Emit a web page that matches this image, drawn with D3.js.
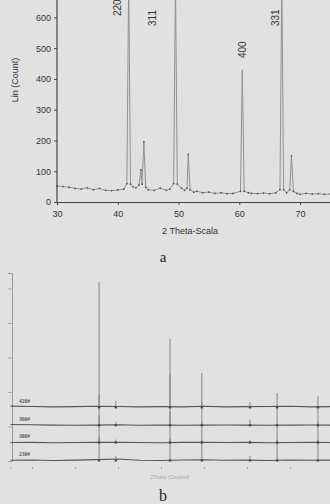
<!DOCTYPE html>
<html>
<head>
<meta charset="utf-8">
<script src="https://cdn.jsdelivr.net/npm/d3@7"></script>
<style>
  body { margin: 0; background: #e1e1e1; }
  svg { display: block; }
</style>
</head>
<body>
<script>
// (a) XRD pattern: [2theta, count]
const profileA = [
  [30, 52], [31, 50], [32, 48], [33, 44], [34, 42], [35, 46], [36, 40], [37, 44],
  [38, 38], [39, 37], [40, 39], [41, 42], [41.5, 60], [41.8, 720], [42.1, 58],
  [42.5, 50], [43, 46], [43.5, 55], [43.8, 105], [44.0, 58], [44.3, 195], [44.6, 48],
  [45, 40], [46, 38], [47, 45], [48, 38], [48.6, 42], [49.2, 60], [49.5, 720],
  [49.8, 58], [50.5, 45], [51, 38], [51.4, 45], [51.6, 155], [51.9, 40], [52.5, 32],
  [53, 35], [54, 30], [55, 32], [56, 28], [57, 30], [58, 27], [59, 28], [60.2, 35],
  [60.5, 430], [60.8, 35], [61.5, 30], [62, 28], [63, 27], [64, 29], [65, 27],
  [66, 30], [66.7, 40], [67.0, 720], [67.3, 40], [67.8, 30], [68.3, 40], [68.6, 150],
  [68.9, 35], [69.5, 28], [70, 25], [71, 28], [72, 26], [73, 27], [74, 25], [75, 26]
];
const hklLabels = ['220', '311', '400', '331'];
const hklPos = [41.8, 49.5, 60.5, 67.0];
const yTicksA = [0, 100, 200, 300, 400, 500, 600];
const xTicksA = [30, 40, 50, 60, 70];

// (b) stacked patterns
const samplesB = ['230#', '300#', '360#', '420#'];
const offsetsB = [0, 520, 1020, 1540];
const bgX = [15, 20, 25, 30, 35, 40, 45, 50, 55, 60, 65, 70, 75, 80, 85, 89.3];
const bgB = [
  [20, 30, 15, 25, 40, 60, 20, 15, 30, 35, 20, 25, 15, 30, 20, 25],
  [15, 20, 10, 15, 20, 25, 15, 10, 20, 20, 15, 20, 10, 15, 20, 15],
  [40, 30, 20, 15, 20, 30, 15, 20, 15, 20, 25, 20, 15, 20, 25, 20],
  [50, 40, 30, 35, 45, 40, 30, 35, 30, 45, 30, 35, 40, 45, 30, 35]
];
const peakX = [35.6, 39.5, 52.1, 59.5, 70.7, 77.0, 86.5];
const peakB = [
  [700, 150, 650, 600, 150, 600, 600],
  [800, 100, 900, 600, 80, 550, 600],
  [900, 120, 1500, 700, 180, 600, 550],
  [3650, 200, 2000, 1010, 170, 430, 345]
];
const yTicksB = [0, 1000, 2000, 3000, 4000, 5000];
const xTicksB = [15, 20, 30, 40, 50, 60, 70, 80];

const W = 330, H = 504;
const svg = d3.select('body').append('svg').attr('width', W).attr('height', H);

// ---- chart a ----
const x = d3.scaleLinear().domain([30, 75]).range([57, 330.4]);
const y = d3.scaleLinear().domain([0, 650]).range([202, 2]);

svg.append('clipPath').attr('id', 'clipA')
  .append('rect').attr('x', 57).attr('y', 0).attr('width', W - 57).attr('height', 202);

svg.append('path')
  .datum(profileA)
  .attr('clip-path', 'url(#clipA)')
  .attr('fill', 'none')
  .attr('stroke', '#919191')
  .attr('stroke-width', 1)
  .attr('d', d3.line().x(d => x(d[0])).y(d => y(d[1])));

// dots along the trace, like the scan
svg.append('g').selectAll('circle')
  .data(profileA.filter(d => d[1] < 300))
  .join('circle')
  .attr('cx', d => x(d[0]))
  .attr('cy', d => y(d[1]))
  .attr('r', 0.9)
  .attr('fill', '#555');

const yAxisA = svg.append('g')
  .attr('transform', `translate(${x(30)},0)`)
  .call(d3.axisLeft(y).tickValues(yTicksA).tickSize(3).tickPadding(3));
yAxisA.select('.domain').attr('d', `M-0,202V0`);

const xAxisA = svg.append('g')
  .attr('transform', `translate(0,${y(0)})`)
  .call(d3.axisBottom(x).tickValues(xTicksA).tickSize(3).tickPadding(6));

[yAxisA, xAxisA].forEach(g => {
  g.select('.domain').attr('stroke', '#444').attr('stroke-width', 1.2);
  g.selectAll('.tick line').attr('stroke', '#444');
  g.selectAll('text').attr('fill', '#333').attr('font-size', 9)
    .attr('font-family', 'Liberation Sans, Arial, sans-serif');
});

const labelDx = [-11, -22, 1, -6];
const labelY = [2, 12, 44, 12];
svg.append('g').selectAll('text')
  .data(hklLabels)
  .join('text')
  .attr('transform', (d, i) => `translate(${x(hklPos[i]) + labelDx[i] + 3},${labelY[i] + 14}) rotate(-90)`)
  .attr('font-size', 10)
  .attr('font-family', 'Liberation Sans, Arial, sans-serif')
  .attr('fill', '#333')
  .text(d => d);

svg.append('text')
  .attr('transform', 'translate(18,80) rotate(-90)')
  .attr('text-anchor', 'middle')
  .attr('font-size', 9)
  .attr('font-family', 'Liberation Sans, Arial, sans-serif')
  .attr('fill', '#333')
  .text('Lin (Count)');

svg.append('text')
  .attr('x', 190).attr('y', 234)
  .attr('text-anchor', 'middle')
  .attr('font-size', 9)
  .attr('font-family', 'Liberation Sans, Arial, sans-serif')
  .attr('fill', '#333')
  .text('2 Theta-Scala');

svg.append('text')
  .attr('x', 163).attr('y', 262)
  .attr('text-anchor', 'middle')
  .attr('font-size', 15)
  .attr('font-family', 'Liberation Serif, serif')
  .attr('fill', '#222')
  .text('a');

// ---- chart b ----
const xb = d3.scaleLinear().domain([15, 89.3]).range([10.5, 330]);
const yb = d3.scaleLinear().domain([0, 5450]).range([461, 273]);

const yAxisB = svg.append('g')
  .attr('transform', `translate(${xb(15) + 1.5},0)`)
  .call(d3.axisLeft(yb).tickValues(yTicksB).tickSize(4).tickFormat(''));
yAxisB.select('.domain').attr('stroke', '#999');
yAxisB.selectAll('.tick line').attr('stroke', '#aaa');

const xAxisB = svg.append('g')
  .attr('transform', `translate(0,${yb(0) + 6})`)
  .call(d3.axisBottom(xb).tickValues(xTicksB).tickSize(2).tickFormat(''));
xAxisB.select('.domain').remove();
xAxisB.selectAll('.tick line').attr('stroke', '#aaa');

samplesB.forEach((name, i) => {
  const off = offsetsB[i];
  const pts = bgX.map((v, j) => [v, bgB[i][j] + off]);
  svg.append('path')
    .datum(pts)
    .attr('fill', 'none')
    .attr('stroke', '#555')
    .attr('stroke-width', 1.1)
    .attr('d', d3.line().x(d => xb(d[0])).y(d => yb(d[1])));

  svg.append('g').selectAll('line')
    .data(peakX)
    .join('line')
    .attr('x1', d => xb(d)).attr('x2', d => xb(d))
    .attr('y1', yb(off)).attr('y2', (d, j) => yb(off + peakB[i][j]))
    .attr('stroke', '#7a7a7a')
    .attr('stroke-width', 0.9);

  svg.append('g').selectAll('rect')
    .data(peakX)
    .join('rect')
    .attr('x', d => xb(d) - 1.2).attr('y', yb(off) - 1.5)
    .attr('width', 2.4).attr('height', 2)
    .attr('fill', '#444');

  svg.append('text')
    .attr('x', 19).attr('y', yb(off) - 5)
    .attr('font-size', 5.5)
    .attr('font-weight', 'bold')
    .attr('font-family', 'Liberation Serif, serif')
    .attr('fill', '#555')
    .text(name);
});

svg.append('text')
  .attr('x', 170).attr('y', 479)
  .attr('text-anchor', 'middle')
  .attr('font-size', 5)
  .attr('font-family', 'Liberation Sans, Arial, sans-serif')
  .attr('fill', '#aaa')
  .text('2Theta (Coupled)');

svg.append('text')
  .attr('x', 163).attr('y', 501)
  .attr('text-anchor', 'middle')
  .attr('font-size', 16)
  .attr('font-family', 'Liberation Serif, serif')
  .attr('fill', '#222')
  .text('b');
</script>
</body>
</html>
